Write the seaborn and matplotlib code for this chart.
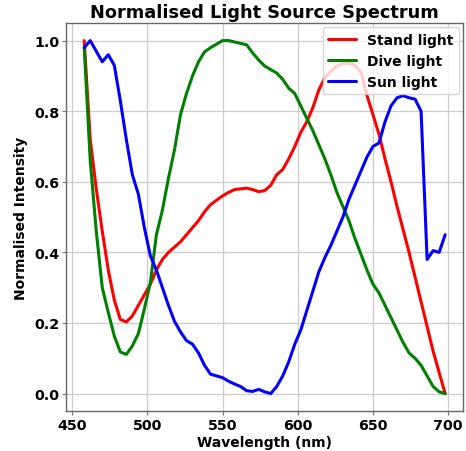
import numpy as np
import pandas as pd
import seaborn as sns
import matplotlib.pyplot as plt

sns.set_theme(style="whitegrid")
plt.rcParams["font.family"] = ["DejaVu Sans"]
plt.rcParams.update({
    "text.color": "black",
    "axes.labelcolor": "black",
    "xtick.color": "black",
    "ytick.color": "black",
})

# wavelengths (nm) and normalised intensities
wavelength = list(range(458, 699, 4))

stand_light = [
    1.00, 0.72, 0.58, 0.46, 0.35, 0.265, 0.21, 0.203, 0.22, 0.25,
    0.28, 0.31, 0.35, 0.38, 0.40, 0.415, 0.43, 0.45, 0.47, 0.49,
    0.515, 0.535, 0.548, 0.56, 0.57, 0.578, 0.58, 0.582, 0.578, 0.572,
    0.575, 0.59, 0.62, 0.635, 0.665, 0.70, 0.74, 0.77, 0.81, 0.86,
    0.895, 0.913, 0.928, 0.935, 0.936, 0.93, 0.91, 0.845, 0.79, 0.735,
    0.665, 0.60, 0.53, 0.465, 0.40, 0.33, 0.26, 0.19, 0.12, 0.06,
    0.0,
]

dive_light = [
    0.98, 0.66, 0.46, 0.30, 0.23, 0.163, 0.118, 0.111, 0.135, 0.17,
    0.24, 0.315, 0.45, 0.52, 0.61, 0.69, 0.79, 0.85, 0.90, 0.94,
    0.968, 0.98, 0.99, 1.0, 1.0, 0.996, 0.992, 0.988, 0.965, 0.945,
    0.928, 0.918, 0.908, 0.89, 0.865, 0.85, 0.815, 0.78, 0.745, 0.705,
    0.665, 0.62, 0.57, 0.53, 0.49, 0.44, 0.395, 0.35, 0.31, 0.285,
    0.25, 0.215, 0.18, 0.145, 0.115, 0.10, 0.08, 0.05, 0.02, 0.005,
    0.0,
]

sun_light = [
    0.98, 1.00, 0.97, 0.94, 0.96, 0.93, 0.83, 0.72, 0.62, 0.565,
    0.47, 0.39, 0.35, 0.30, 0.25, 0.205, 0.175, 0.15, 0.14, 0.115,
    0.08, 0.055, 0.05, 0.045, 0.035, 0.027, 0.02, 0.008, 0.006, 0.012,
    0.005, 0.0, 0.02, 0.05, 0.09, 0.14, 0.18, 0.235, 0.29, 0.345,
    0.385, 0.42, 0.46, 0.50, 0.55, 0.59, 0.63, 0.67, 0.70, 0.71,
    0.77, 0.815, 0.838, 0.844, 0.838, 0.834, 0.80, 0.38, 0.405, 0.40,
    0.45,
]

series = ["Stand light", "Dive light", "Sun light"]
colors = ["red", "green", "blue"]

df = pd.concat(
    [
        pd.DataFrame({"wavelength": wavelength, "intensity": vals, "source": name})
        for name, vals in zip(series, [stand_light, dive_light, sun_light])
    ]
)

fig, ax = plt.subplots(figsize=(4.66, 4.52), dpi=100)
fig.subplots_adjust(left=0.142, right=0.994, top=0.947, bottom=0.088)

sns.lineplot(
    data=df,
    x="wavelength",
    y="intensity",
    hue="source",
    hue_order=series,
    palette=dict(zip(series, colors)),
    linewidth=2.2,
    ax=ax,
)

ax.set_title("Normalised Light Source Spectrum", fontsize=12.8, fontweight="bold", pad=4)
ax.set_xlabel("Wavelength (nm)", fontsize=10, fontweight="bold", labelpad=2)
ax.set_ylabel("Normalised Intensity", fontsize=10, fontweight="bold", labelpad=4)
ax.set_xticks([450, 500, 550, 600, 650, 700])
ax.set_yticks([0.0, 0.2, 0.4, 0.6, 0.8, 1.0])
ax.tick_params(labelsize=10.3, length=3, width=0.8, color="#777777", pad=2,
               bottom=True, left=True)
for lab in ax.get_xticklabels() + ax.get_yticklabels():
    lab.set_fontweight("bold")
for s in ax.spines.values():
    s.set_color("#666666")
    s.set_linewidth(1)
ax.grid(color="#cccccc", linewidth=0.9)

leg = ax.legend(loc="upper right", prop={"weight": "bold", "size": 10},
                handlelength=2, borderaxespad=0.3, labelspacing=0.5)

fig.savefig("out.png", dpi=100)
